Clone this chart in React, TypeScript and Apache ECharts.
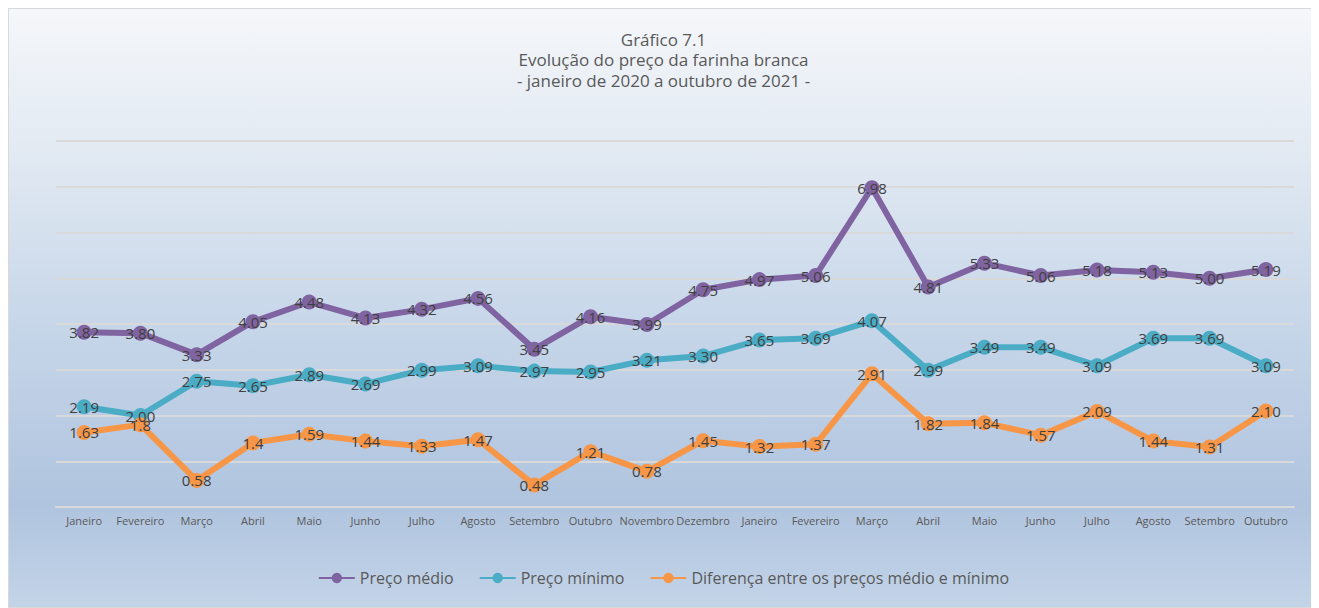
import React, { useEffect, useRef } from "react";
import * as echarts from "echarts";

const categories = [
  "Janeiro", "Fevereiro", "Março", "Abril", "Maio", "Junho", "Julho", "Agosto",
  "Setembro", "Outubro", "Novembro", "Dezembro", "Janeiro", "Fevereiro", "Março",
  "Abril", "Maio", "Junho", "Julho", "Agosto", "Setembro", "Outubro",
];
const precoMedio = [3.82, 3.80, 3.33, 4.05, 4.48, 4.13, 4.32, 4.56, 3.45, 4.16, 3.99, 4.75, 4.97, 5.06, 6.98, 4.81, 5.33, 5.06, 5.18, 5.13, 5.00, 5.19];
const precoMinimo = [2.19, 2.00, 2.75, 2.65, 2.89, 2.69, 2.99, 3.09, 2.97, 2.95, 3.21, 3.30, 3.65, 3.69, 4.07, 2.99, 3.49, 3.49, 3.09, 3.69, 3.69, 3.09];
const diferencaLabels = ["1.63", "1.8", "0.58", "1.4", "1.59", "1.44", "1.33", "1.47", "0.48", "1.21", "0.78", "1.45", "1.32", "1.37", "2.91", "1.82", "1.84", "1.57", "2.09", "1.44", "1.31", "2.10"];
const diferenca = diferencaLabels.map((s) => parseFloat(s));
const seriesNames = ["Preço médio", "Preço mínimo", "Diferença entre os preços médio e mínimo"];
const titleText = "Gráfico 7.1\nEvolução do preço da farinha branca\n- janeiro de 2020 a outubro de 2021 -";

const FONT = "'Open Sans', sans-serif";

export default function App() {
  const ref = useRef<HTMLDivElement>(null);
  useEffect(() => {
    if (!ref.current) return;
    const chart = echarts.init(ref.current, undefined, { renderer: "svg" });
    const mk = (name: string, data: number[], color: string, labels?: string[]) => ({
      name,
      type: "line",
      data,
      symbol: "circle",
      symbolSize: 15,
      lineStyle: { width: 6, color },
      itemStyle: { color },
      label: {
        show: true,
        position: "inside",
        fontSize: 15,
        color: "#404040",
        fontFamily: FONT,
        formatter: (p: any) => (labels ? labels[p.dataIndex] : Number(p.value).toFixed(2)),
      },
      z: 2,
    });
    chart.setOption({
      animation: false,
      backgroundColor: {
        type: "linear", x: 0, y: 0, x2: 0, y2: 1,
        colorStops: [
          { offset: 0, color: "#f5f7fa" },
          { offset: 0.25, color: "#e1e9f2" },
          { offset: 0.5, color: "#c9d8ea" },
          { offset: 0.83, color: "#b0c4df" },
          { offset: 1, color: "#c3d4e8" },
        ],
      },
      title: {
        text: titleText,
        left: "center",
        top: 15,
        textStyle: { fontSize: 17, fontWeight: "normal", color: "#595959", lineHeight: 20.5, fontFamily: FONT },
      },
      legend: {
        data: seriesNames,
        bottom: 16,
        left: "center",
        itemWidth: 36,
        itemHeight: 13,
        itemGap: 25,
        textStyle: { fontSize: 16, color: "#595959", fontFamily: FONT },
      },
      grid: { left: 47, right: 24, top: 132, bottom: 100 },
      xAxis: {
        type: "category",
        data: categories,
        axisLine: { lineStyle: { color: "#d9d9d9", width: 2 } },
        axisTick: { show: false },
        axisLabel: { fontSize: 11, color: "#595959", margin: 8, interval: 0, fontFamily: FONT },
      },
      yAxis: {
        type: "value",
        min: 0,
        max: 8,
        interval: 1,
        axisLabel: { show: false },
        axisLine: { show: false },
        axisTick: { show: false },
        splitLine: { lineStyle: { color: "#d9d9d9", width: 2 } },
      },
      series: [
        mk(seriesNames[0], precoMedio, "#8064a2"),
        mk(seriesNames[1], precoMinimo, "#4bacc6"),
        mk(seriesNames[2], diferenca, "#f79646", diferencaLabels),
      ],
    });
    return () => chart.dispose();
  }, []);
  return (
    <div
      ref={ref}
      style={{ width: 1311, height: 600, boxSizing: "border-box", border: "1px solid #d9d9d9" }}
    />
  );
}
